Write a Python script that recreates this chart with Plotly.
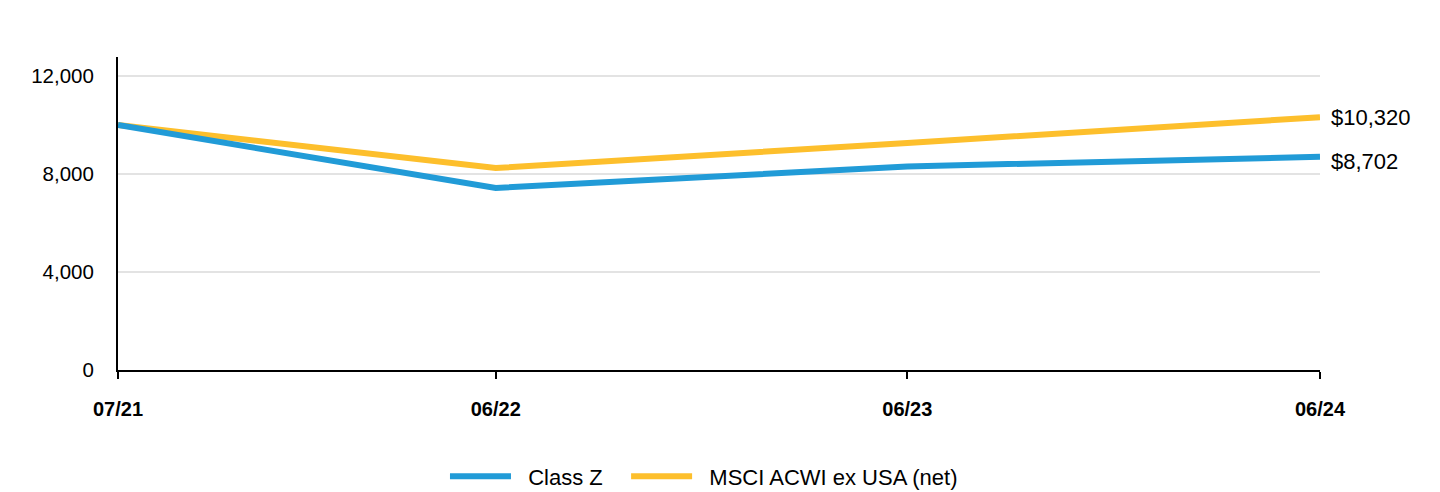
import plotly.graph_objects as go

dates = ["2021-07-30", "2022-06-30", "2023-06-30", "2024-06-30"]
tick_labels = ["07/21", "06/22", "06/23", "06/24"]
class_z = [10000, 7430, 8310, 8702]
msci = [10000, 8245, 9265, 10320]
end_labels = ["$8,702", "$10,320"]
series_names = ["Class Z", "MSCI ACWI ex USA (net)"]

BLUE = "#219bd7"
YELLOW = "#fdbf2c"
FONT = "Liberation Sans, Arial, sans-serif"
NB = "\u00a0"

fig = go.Figure()
fig.add_trace(go.Scatter(x=dates, y=msci, mode="lines", name=NB * 2 + series_names[1],
                         line=dict(color=YELLOW, width=6), legendrank=2))
fig.add_trace(go.Scatter(x=dates, y=class_z, mode="lines", name=NB * 2 + series_names[0] + NB * 3,
                         line=dict(color=BLUE, width=6), legendrank=1))

fig.add_annotation(x=dates[-1], y=msci[-1], text=end_labels[1], showarrow=False,
                   xanchor="left", xshift=9, font=dict(size=22, color="#000"))
fig.add_annotation(x=dates[-1], y=class_z[-1], text=end_labels[0], showarrow=False,
                   xanchor="left", xshift=9, yshift=-5, font=dict(size=22, color="#000"))

fig.update_layout(
    width=1424, height=484,
    margin=dict(l=110, r=112, t=49, b=122, autoexpand=False),
    paper_bgcolor="white", plot_bgcolor="white",
    font=dict(family=FONT, size=20, color="#000"),
    showlegend=True,
    legend=dict(orientation="h", x=0.4875, xanchor="center", y=-0.273, yanchor="top",
                font=dict(size=22), itemwidth=61, traceorder="normal"),
    xaxis=dict(
        type="date", range=[dates[0], dates[-1]],
        tickvals=dates, ticktext=tick_labels,
        tickfont=dict(size=20, family=FONT, weight="bold"),
        showgrid=False, showline=True, linecolor="#000", linewidth=2,
        ticks="outside", ticklen=7, tickwidth=2, tickcolor="#000",
        ticklabelstandoff=13, zeroline=False, automargin=False,
    ),
    yaxis=dict(
        range=[0, 12776], tickvals=[0, 4000, 8000, 12000],
        tickformat=",d", tickfont=dict(size=20.5),
        showgrid=True, gridcolor="#e3e3e3", gridwidth=2,
        showline=True, linecolor="#000", linewidth=2,
        ticks="", ticklabelstandoff=18, zeroline=False, automargin=False,
    ),
)

fig.write_html("out.html")
